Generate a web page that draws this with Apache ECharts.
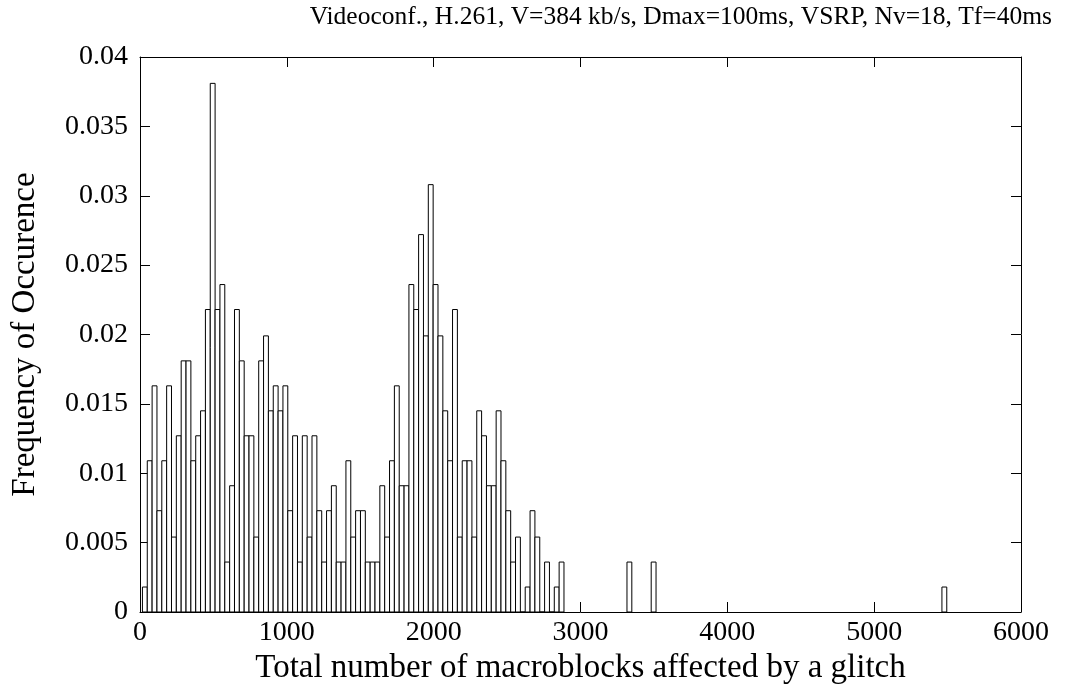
<!DOCTYPE html>
<html>
<head>
<meta charset="utf-8">
<script src="https://cdn.jsdelivr.net/npm/echarts@6/dist/echarts.min.js"></script>
<style>
  html, body { margin: 0; padding: 0; background: #fff; }
  #chart { width: 1065px; height: 689px; }
</style>
</head>
<body>
<div id="chart"></div>
<script>
// histogram: bins 33 macroblocks wide, first bin centred at 33
const binWidth = 33
const freq = [
  0.0018, 0.0109, 0.0163, 0.0073, 0.0109, 0.0163, 0.0054, 0.0127, 0.0181, 0.0181,
  0.0109, 0.0127, 0.0145, 0.0218, 0.0381, 0.0218, 0.0236, 0.0036, 0.0091, 0.0218,
  0.0181, 0.0127, 0.0127, 0.0054, 0.0181, 0.0199, 0.0145, 0.0163, 0.0145, 0.0163,
  0.0073, 0.0127, 0.0036, 0.0127, 0.0054, 0.0127, 0.0073, 0.0036, 0.0073, 0.0091,
  0.0036, 0.0036, 0.0109, 0.0054, 0.0073, 0.0073, 0.0036, 0.0036, 0.0036, 0.0091,
  0.0054, 0.0109, 0.0163, 0.0091, 0.0091, 0.0236, 0.0218, 0.0272, 0.0199, 0.0308,
  0.0236, 0.0199, 0.0145, 0.0109, 0.0218, 0.0054, 0.0109, 0.0109, 0.0054, 0.0145,
  0.0127, 0.0091, 0.0091, 0.0145, 0.0109, 0.0073, 0.0036, 0.0054, 0, 0.0018,
  0.0073, 0.0054, 0, 0.0036, 0, 0.0018, 0.0036
]
// isolated bins further out
const tailCenters = [3333, 3498, 5478]
const tailFreq = [0.0036, 0.0036, 0.0018]

const xTicks = [0, 1000, 2000, 3000, 4000, 5000, 6000]
const yMax = 0.04

const titleText = 'Videoconf., H.261, V=384 kb/s, Dmax=100ms, VSRP, Nv=18, Tf=40ms'
const xName = 'Total number of macroblocks affected by a glitch'
const yName = 'Frequency of Occurence'

const fontFamily = '"Liberation Serif", "Times New Roman", serif'

let bars = freq.map((v, i) => [binWidth * (i + 1), v])
tailCenters.forEach((c, i) => bars.push([c, tailFreq[i]]))

const chart = echarts.init(document.getElementById('chart'))

const tickText = { color: '#000', fontFamily: fontFamily, fontSize: 28 }
const nameText = { color: '#000', fontFamily: fontFamily, fontSize: 33 }
const frameLine = { show: true, onZero: false, lineStyle: { color: '#000', width: 1 } }
const innerTick = { show: true, inside: true, length: 10, lineStyle: { color: '#000' } }

chart.setOption({
  animation: false,
  backgroundColor: '#fff',
  title: {
    text: titleText,
    right: 8,
    top: -1,
    textStyle: { color: '#000', fontFamily: fontFamily, fontSize: 25.5, fontWeight: 'normal' }
  },
  grid: { left: 140, right: 44, top: 57, bottom: 77, containLabel: false, outerBoundsMode: 'none' },
  xAxis: [{
    type: 'value',
    min: 0,
    max: xTicks[xTicks.length - 1],
    interval: 1000,
    name: xName,
    nameLocation: 'middle',
    nameGap: 36,
    nameTextStyle: nameText,
    axisLine: frameLine,
    axisTick: innerTick,
    axisLabel: { ...tickText, margin: 7, formatter: v => String(v) },
    splitLine: { show: false }
  }, {
    type: 'value',
    position: 'top',
    min: 0,
    max: xTicks[xTicks.length - 1],
    interval: 1000,
    axisLine: frameLine,
    axisTick: innerTick,
    axisLabel: { show: false },
    splitLine: { show: false }
  }],
  yAxis: [{
    type: 'value',
    min: 0,
    max: yMax,
    interval: 0.005,
    name: yName,
    nameLocation: 'middle',
    nameGap: 98,
    nameTextStyle: nameText,
    axisLine: frameLine,
    axisTick: innerTick,
    axisLabel: { ...tickText, margin: 12, formatter: v => String(+v.toFixed(3)) },
    splitLine: { show: false }
  }, {
    type: 'value',
    position: 'right',
    min: 0,
    max: yMax,
    interval: 0.005,
    axisLine: frameLine,
    axisTick: innerTick,
    axisLabel: { show: false },
    splitLine: { show: false }
  }],
  series: [{
    type: 'custom',
    xAxisIndex: 0,
    yAxisIndex: 0,
    data: bars,
    renderItem: function (params, api) {
      const c = api.value(0)
      const v = api.value(1)
      const p0 = api.coord([c - binWidth / 2, v])
      const p1 = api.coord([c + binWidth / 2, 0])
      return {
        type: 'rect',
        shape: { x: p0[0], y: p0[1], width: p1[0] - p0[0], height: p1[1] - p0[1] },
        style: { fill: '#fff', stroke: '#000', lineWidth: 1 }
      }
    }
  }]
})
</script>
</body>
</html>
